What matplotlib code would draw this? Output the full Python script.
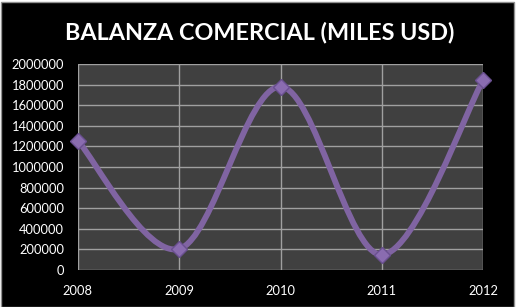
import matplotlib.pyplot as plt
from matplotlib.path import Path
from matplotlib.patches import PathPatch, Rectangle
import numpy as np

years = [2008, 2009, 2010, 2011, 2012]
balanza = [1255000, 205000, 1780000, 148000, 1845000]
yticks = list(range(0, 2000001, 200000))

plt.rcParams['font.family'] = ['Lato', 'DejaVu Sans']

fig = plt.figure(figsize=(5.19, 3.07), dpi=100, facecolor='white')
# black chart area with thin grey border
fig.patches.append(Rectangle((1 / 519, 0), 513 / 519, 305 / 307, transform=fig.transFigure,
                             facecolor='black', edgecolor='#909090', lw=1, zorder=-5))

ax = fig.add_axes([0.150, 0.1205, 0.781, 0.671])
ax.set_facecolor('#404040')

# smooth line like Excel (catmull-rom style bezier)
x = np.array(years, dtype=float)
y = np.array(balanza, dtype=float)
verts = [(x[0], y[0])]
codes = [Path.MOVETO]
n = len(x)
for i in range(n - 1):
    p0 = (x[max(i - 1, 0)], y[max(i - 1, 0)])
    p1 = (x[i], y[i])
    p2 = (x[i + 1], y[i + 1])
    p3 = (x[min(i + 2, n - 1)], y[min(i + 2, n - 1)])
    c1 = (p1[0] + (p2[0] - p0[0]) / 6, p1[1] + (p2[1] - p0[1]) / 6)
    c2 = (p2[0] - (p3[0] - p1[0]) / 6, p2[1] - (p3[1] - p1[1]) / 6)
    verts += [c1, c2, p2]
    codes += [Path.CURVE4] * 3
ax.add_patch(PathPatch(Path(verts, codes), fill=False, edgecolor='#8064A2',
                       lw=4.2, zorder=3, clip_on=False))
ax.plot(years, balanza, linestyle='none', marker='D', markersize=8,
        color='#8A6CB0', markeredgecolor='#6A5090', zorder=4, clip_on=False)

ax.set_xlim(2008, 2012)
ax.set_ylim(0, 2000000)
ax.set_xticks(years)
ax.set_yticks(yticks)
ax.set_yticklabels([str(v) for v in yticks])
ax.tick_params(colors='white', labelsize=9.3, length=0)
ax.tick_params(axis='x', pad=11)
ax.tick_params(axis='y', pad=10)
ax.grid(True, color='#A0A0A0', lw=1)
ax.set_axisbelow(True)
for s in ax.spines.values():
    s.set_visible(False)

fig.text(0.5, 0.893, 'BALANZA COMERCIAL (MILES USD)', color='white',
         fontsize=16.8, fontweight='bold', ha='center', va='center')

fig.savefig('out.png', dpi=100, facecolor='white')
